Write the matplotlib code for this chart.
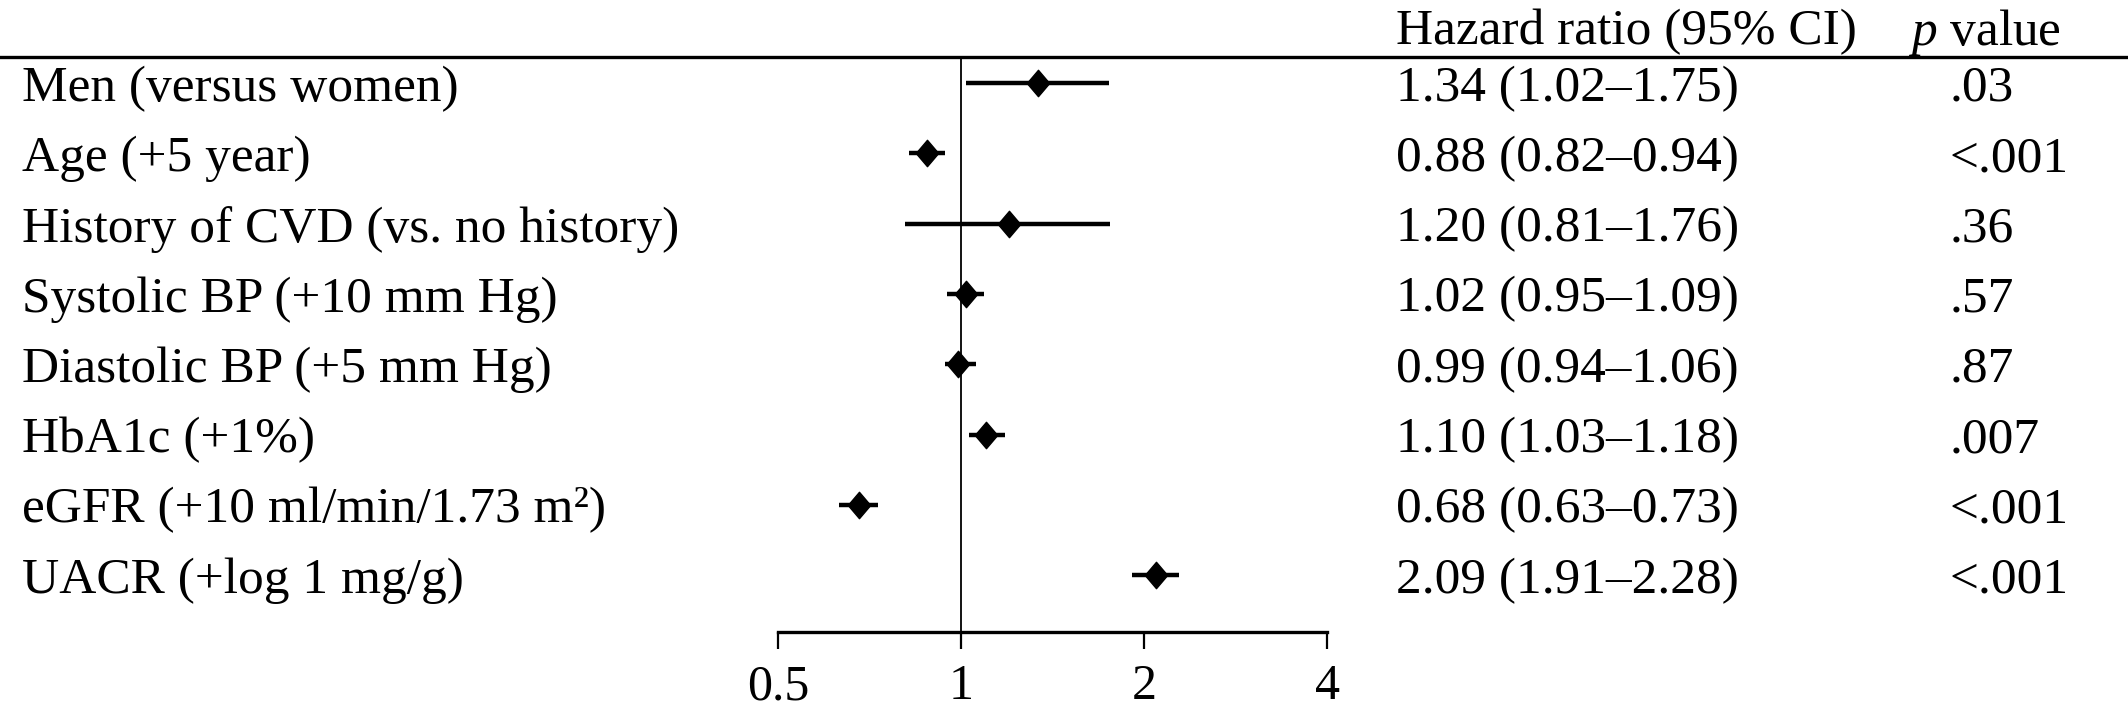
import numpy as np
import matplotlib
matplotlib.use("Agg")
import matplotlib.pyplot as plt
from matplotlib.path import Path

plt.rcParams['font.family'] = ['Liberation Serif', 'DejaVu Serif']
plt.rcParams['mathtext.fontset'] = 'custom'
plt.rcParams['mathtext.rm'] = 'Liberation Serif'
plt.rcParams['mathtext.it'] = 'Liberation Serif:italic'

# data
labels = ["Men (versus women)", "Age (+5 year)", "History of CVD (vs. no history)",
          "Systolic BP (+10 mm Hg)", "Diastolic BP (+5 mm Hg)", "HbA1c (+1%)",
          "eGFR (+10 ml/min/1.73 m²)", "UACR (+log 1 mg/g)"]
hr = [1.34, 0.88, 1.20, 1.02, 0.99, 1.10, 0.68, 2.09]
ci_low = [1.02, 0.82, 0.81, 0.95, 0.94, 1.03, 0.63, 1.91]
ci_high = [1.75, 0.94, 1.76, 1.09, 1.06, 1.18, 0.73, 2.28]
p_values = [".03", "<.001", ".36", ".57", ".87", ".007", "<.001", "<.001"]
xticks = [0.5, 1, 2, 4]
xticklabels = ["0.5", "1", "2", "4"]

W, H = 2128, 711
fig = plt.figure(figsize=(W / 100, H / 100), dpi=100)
ax = fig.add_axes([0, 0, 1, 1])

# pixel layout -> data limits
px_one, px_oct = 961, 183
row0, row_step = 83, 70.3
ax.set_xscale('log', base=2)
ax.set_xlim(2 ** (-px_one / px_oct), 2 ** ((W - px_one) / px_oct))
ax.set_ylim((H - row0) / row_step, -row0 / row_step)

def yrow(p):
    return (p - row0) / row_step

fs = 37
y = np.arange(len(labels))
diamond = Path([(0, 1), (0.85, 0), (0, -1), (-0.85, 0), (0, 1)],
               [Path.MOVETO, Path.LINETO, Path.LINETO, Path.LINETO, Path.CLOSEPOLY])

ax.hlines(y, ci_low, ci_high, color='black', lw=3.2, zorder=3)
ax.plot(hr, y, linestyle='none', marker=diamond, markersize=19, color='black', zorder=4)

# reference line at 1
y_top, y_axis = yrow(57), yrow(632)
ax.plot([1, 1], [y_top, y_axis], color='black', lw=1.3)
ax.axhline(y_top, color='black', lw=2.4)

# bottom axis
for s in ['top', 'right', 'left']:
    ax.spines[s].set_visible(False)
ax.spines['bottom'].set_position(('data', y_axis))
ax.spines['bottom'].set_bounds(0.5, 4)
ax.spines['bottom'].set_linewidth(2.4)
ax.set_xticks(xticks)
ax.set_xticklabels(xticklabels)
ax.xaxis.set_minor_locator(plt.NullLocator())
ax.tick_params(axis='x', direction='out', length=12, width=1.6, pad=11, labelsize=36)
ax.set_yticks([])

trans = ax.get_yaxis_transform()  # x in axes fraction, y in data
x_lab, x_hr, x_p, x_phead = 22 / W, 1396 / W, 1950 / W, 1908 / W
y_head = yrow(26)

ax.text(x_hr, y_head, "Hazard ratio (95% CI)", transform=trans, fontsize=fs,
        ha='left', va='center_baseline')
ax.text(x_phead, y_head, "$p$ value", transform=trans, fontsize=fs,
        ha='left', va='center_baseline')

for i in range(len(labels)):
    ax.text(x_lab, i, labels[i], transform=trans, fontsize=fs, ha='left', va='center_baseline')
    ax.text(x_hr, i, f"{hr[i]:.2f} ({ci_low[i]:.2f}–{ci_high[i]:.2f})", transform=trans,
            fontsize=fs, ha='left', va='center_baseline')
    ax.text(x_p, i, p_values[i], transform=trans, fontsize=fs, ha='left', va='center_baseline')

fig.savefig("out.png", dpi=100)
